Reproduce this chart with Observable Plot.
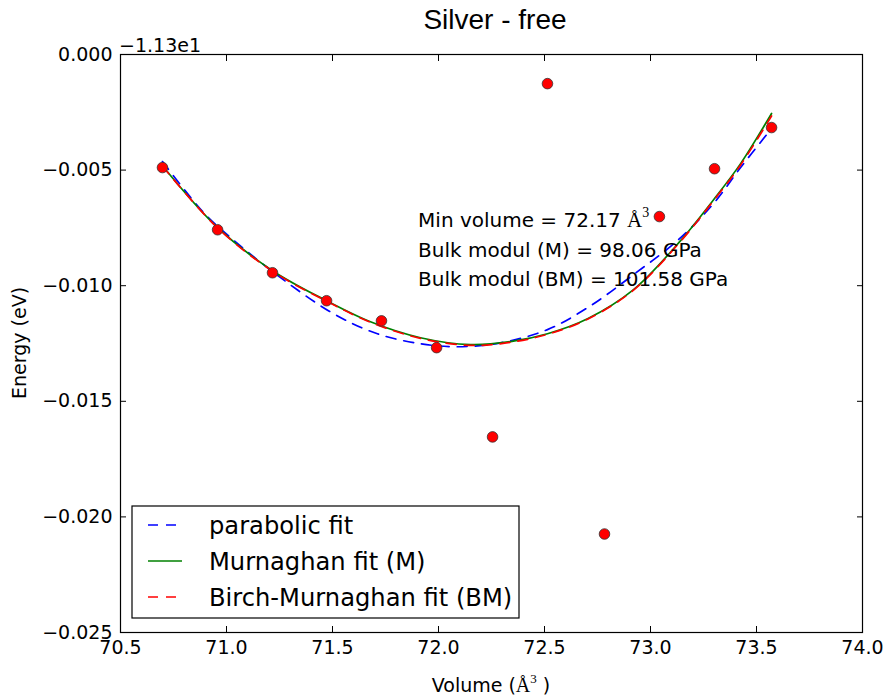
<!DOCTYPE html>
<html><head><meta charset="utf-8">
<script src="https://cdn.jsdelivr.net/npm/d3@7"></script>
<script src="https://cdn.jsdelivr.net/npm/@observablehq/plot@0.6"></script>
<style>body{margin:0;background:#fff} svg{display:block}</style>
</head><body><div id="chart"></div>
<script>
// measured points
const volumes  = [70.698, 70.958, 71.217, 71.472, 71.731, 71.991, 72.255, 72.514, 72.783, 73.042, 73.302, 73.571];
const energies = [-0.00489, -0.00758, -0.00944, -0.01065, -0.01152, -0.01268, -0.01654, -0.00126, -0.02074, -0.00701, -0.00494, -0.00316];
// parabolic fit
const parabV = [70.698, 70.892, 71.019, 71.255, 71.505, 71.712, 71.915, 72.090, 72.292, 72.514, 72.717, 72.920, 73.127, 73.297, 73.425, 73.552];
const parabE = [-0.00463, -0.00684, -0.00792, -0.00965, -0.01121, -0.01208, -0.01251, -0.01264, -0.01247, -0.01190, -0.01087, -0.00952, -0.00805, -0.00645, -0.00489, -0.00342];
// Murnaghan fit
const murnV = [70.698, 70.958, 71.217, 71.472, 71.679, 71.915, 72.151, 72.340, 72.514, 72.703, 72.920, 73.142, 73.302, 73.425, 73.571];
const murnE = [-0.00481, -0.00749, -0.00935, -0.01065, -0.01156, -0.01225, -0.01255, -0.01242, -0.01208, -0.01143, -0.01017, -0.00805, -0.00623, -0.00472, -0.00255];
// Birch-Murnaghan fit
const birchV = [70.698, 70.958, 71.217, 71.472, 71.679, 71.915, 72.151, 72.340, 72.514, 72.703, 72.920, 73.142, 73.302, 73.425, 73.571];
const birchE = [-0.00483, -0.00750, -0.00937, -0.01067, -0.01158, -0.01228, -0.01258, -0.01245, -0.01210, -0.01145, -0.01019, -0.00808, -0.00627, -0.00478, -0.00266];
const xTicks = [70.5, 71.0, 71.5, 72.0, 72.5, 73.0, 73.5, 74.0];
const yTicks = [0.000, -0.005, -0.010, -0.015, -0.020, -0.025];
const seriesNames = ["parabolic fit", "Murnaghan fit (M)", "Birch-Murnaghan fit (BM)"];
const annotationLines = ["Min volume = 72.17 ", "Bulk modul (M) = 98.06 GPa", "Bulk modul (BM) = 101.58 GPa"];

const pts = volumes.map((v, i) => ({v, e: energies[i]}));
const parab = parabV.map((v, i) => ({v, e: parabE[i]}));
const murn = murnV.map((v, i) => ({v, e: murnE[i]}));
const birch = birchV.map((v, i) => ({v, e: birchE[i]}));

const BLUE = "#0000ff", GREEN = "#008000", RED = "#ff0000";
const DASH = "10,8";

const chart = Plot.plot({
  width: 888, height: 698,
  marginLeft: 120, marginRight: 26, marginTop: 54, marginBottom: 66,
  style: {fontFamily: "DejaVu Sans", fontSize: "19px", background: "white", color: "black"},
  x: {domain: [70.5, 74.0]},
  y: {domain: [-0.025, 0]},
  marks: [
    Plot.frame({stroke: "black", strokeWidth: 1.2}),
    Plot.axisX({anchor: "bottom", ticks: xTicks, tickFormat: d3.format(".1f"), tickSize: -6, tickPadding: 14, label: null}),
    Plot.axisX({anchor: "top", ticks: xTicks, tickFormat: () => "", tickSize: -6, label: null}),
    Plot.axisY({anchor: "left", ticks: yTicks, tickFormat: d3.format(".3f"), tickSize: -6, tickPadding: 14, label: null}),
    Plot.axisY({anchor: "right", ticks: yTicks, tickFormat: () => "", tickSize: -6, label: null}),
    Plot.line(parab, {x: "v", y: "e", stroke: BLUE, strokeWidth: 1.7, strokeDasharray: DASH, curve: "catmull-rom"}),
    Plot.line(murn, {x: "v", y: "e", stroke: GREEN, strokeWidth: 1.7, curve: "catmull-rom"}),
    Plot.line(birch, {x: "v", y: "e", stroke: RED, strokeWidth: 1.7, strokeDasharray: DASH, curve: "catmull-rom"}),
    Plot.dot(pts, {x: "v", y: "e", r: 5.3, fill: RED, stroke: "#333", strokeWidth: 0.8})
  ]
});
document.getElementById("chart").append(chart);

const svg = d3.select(chart);
const sx = chart.scale("x"), sy = chart.scale("y");
const L = sx.apply(70.5), R = sx.apply(74.0), T = sy.apply(0), B = sy.apply(-0.025);
const SERIF = "Liberation Serif";

// title
svg.append("text").attr("x", (L + R) / 2 + 4).attr("y", T - 25).attr("text-anchor", "middle")
  .attr("font-family", "Liberation Sans").attr("font-size", 28).attr("fill", "black").text("Silver - free");
// offset text
svg.append("text").attr("x", L - 1).attr("y", T - 2).attr("text-anchor", "start").attr("font-family", "DejaVu Sans").attr("font-size", 19)
  .attr("fill", "black").text("\u22121.13e1");
// x label
const xl = svg.append("text").attr("x", (L + R) / 2).attr("y", B + 60).attr("text-anchor", "middle")
  .attr("font-family", "DejaVu Sans").attr("font-size", 19).attr("fill", "black");
xl.append("tspan").text("Volume (");
xl.append("tspan").attr("font-family", SERIF).attr("font-size", 20).text("\u00C5");
xl.append("tspan").attr("font-family", SERIF).attr("font-size", 13).attr("dy", -9).text("3");
xl.append("tspan").attr("dy", 9).text(" )");
// y label
svg.append("text").attr("transform", `translate(${L - 94},${(T + B) / 2}) rotate(-90)`).attr("text-anchor", "middle")
  .attr("font-family", "DejaVu Sans").attr("font-size", 19).attr("fill", "black").text("Energy (eV)");

// annotation (anchored to data coordinates)
const ax = sx.apply(71.906), ay = sy.apply(-0.0075);
annotationLines.forEach((t, i) => {
  const tx = svg.append("text").attr("x", ax).attr("y", ay + i * 29.5).attr("text-anchor", "start")
    .attr("font-family", "DejaVu Sans").attr("font-size", 20).attr("fill", "black");
  tx.append("tspan").text(t);
  if (i === 0) {
    tx.append("tspan").attr("font-family", SERIF).attr("font-size", 21).text("\u00C5");
    tx.append("tspan").attr("font-family", SERIF).attr("font-size", 14).attr("dy", -10).text("3");
  }
});

// legend
const lg = svg.append("g").attr("transform", `translate(${L + 12},${B - 126})`);
lg.append("rect").attr("width", 387).attr("height", 112).attr("fill", "white").attr("stroke", "black").attr("stroke-width", 1.2);
const styles = [{c: BLUE, d: DASH}, {c: GREEN, d: null}, {c: RED, d: DASH}];
seriesNames.forEach((name, i) => {
  const yy = 19 + i * 36;
  lg.append("line").attr("x1", 16).attr("x2", 50).attr("y1", yy).attr("y2", yy)
    .attr("stroke", styles[i].c).attr("stroke-width", 1.7).attr("stroke-dasharray", styles[i].d);
  lg.append("text").attr("x", 77).attr("y", yy + 8.5).attr("text-anchor", "start").attr("font-family", "DejaVu Sans").attr("font-size", 24.2)
    .attr("fill", "black").text(name);
});
</script>
</body></html>
